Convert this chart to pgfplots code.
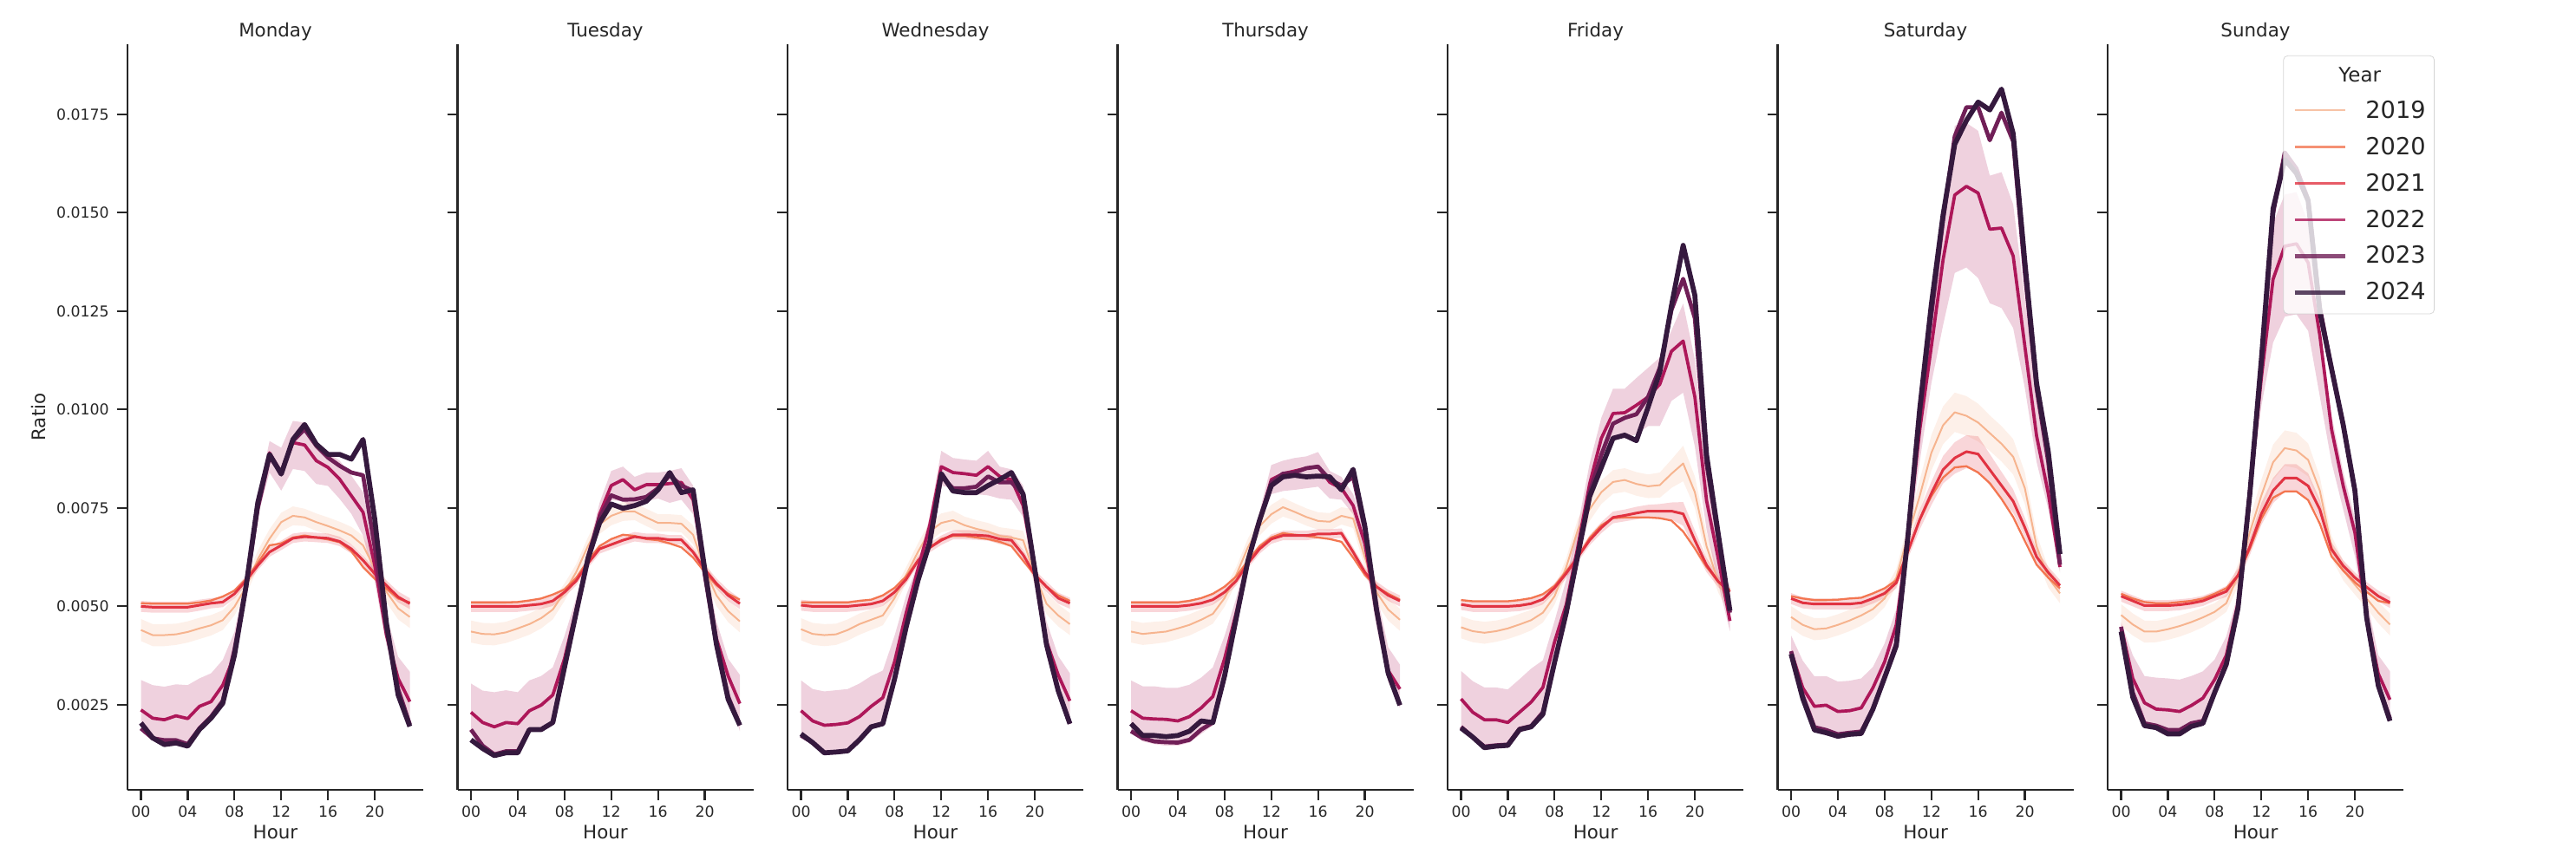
\documentclass[border=0pt]{standalone}
\usepackage{fontspec}
\setmainfont{DejaVu Sans}
\usepackage{pgfplots}
\pgfplotsset{compat=1.18}
\usepackage{pgfplotstable}
\usepgfplotslibrary{fillbetween}

\definecolor{c19}{HTML}{F6B48F}
\definecolor{c20}{HTML}{F37651}
\definecolor{c21}{HTML}{E13342}
\definecolor{c22}{HTML}{AD1759}
\definecolor{c23}{HTML}{701F57}
\definecolor{c24}{HTML}{35193E}
\definecolor{axc}{HTML}{262626}

\pgfplotstableread{
h y19 e19 y20 y21 e21 y22 l22 u22 y23 y24
0 0.00440 0.00028 0.00508 0.00500 0.00014 0.00237 0.00195 0.00313 0.00190 0.00204
1 0.00427 0.00028 0.00507 0.00498 0.00014 0.00216 0.00166 0.00300 0.00165 0.00166
2 0.00427 0.00028 0.00507 0.00498 0.00014 0.00212 0.00150 0.00296 0.00160 0.00149
3 0.00429 0.00027 0.00507 0.00498 0.00014 0.00222 0.00157 0.00302 0.00160 0.00153
4 0.00435 0.00027 0.00507 0.00498 0.00014 0.00215 0.00145 0.00300 0.00150 0.00145
5 0.00444 0.00027 0.00510 0.00503 0.00014 0.00246 0.00183 0.00317 0.00190 0.00187
6 0.00452 0.00026 0.00515 0.00508 0.00013 0.00258 0.00212 0.00330 0.00220 0.00216
7 0.00465 0.00025 0.00525 0.00511 0.00013 0.00300 0.00250 0.00364 0.00260 0.00254
8 0.00499 0.00022 0.00540 0.00532 0.00012 0.00376 0.00360 0.00435 0.00390 0.00376
9 0.00550 0.00020 0.00570 0.00566 0.00012 0.00552 0.00537 0.00579 0.00550 0.00553
10 0.00620 0.00022 0.00610 0.00604 0.00012 0.00755 0.00730 0.00778 0.00750 0.00764
11 0.00672 0.00024 0.00655 0.00638 0.00012 0.00890 0.00840 0.00920 0.00880 0.00886
12 0.00714 0.00024 0.00660 0.00655 0.00012 0.00840 0.00794 0.00903 0.00840 0.00836
13 0.00730 0.00024 0.00675 0.00673 0.00012 0.00916 0.00849 0.00971 0.00920 0.00924
14 0.00726 0.00022 0.00680 0.00677 0.00012 0.00910 0.00844 0.00967 0.00950 0.00962
15 0.00714 0.00022 0.00675 0.00675 0.00012 0.00870 0.00811 0.00916 0.00908 0.00912
16 0.00704 0.00022 0.00670 0.00673 0.00012 0.00853 0.00806 0.00890 0.00878 0.00886
17 0.00693 0.00022 0.00663 0.00665 0.00012 0.00823 0.00773 0.00870 0.00857 0.00886
18 0.00680 0.00022 0.00640 0.00646 0.00012 0.00781 0.00735 0.00832 0.00840 0.00874
19 0.00655 0.00024 0.00600 0.00617 0.00012 0.00739 0.00680 0.00790 0.00833 0.00924
20 0.00596 0.00026 0.00570 0.00583 0.00012 0.00604 0.00562 0.00646 0.00650 0.00722
21 0.00537 0.00027 0.00545 0.00553 0.00013 0.00427 0.00402 0.00478 0.00440 0.00457
22 0.00495 0.00028 0.00520 0.00524 0.00014 0.00317 0.00280 0.00372 0.00290 0.00275
23 0.00473 0.00028 0.00510 0.00507 0.00014 0.00258 0.00195 0.00334 0.00200 0.00195
}\mon

\pgfplotstableread{
h y19 e19 y20 y21 e21 y22 l22 u22 y23 y24
0 0.00436 0.00028 0.00510 0.00500 0.00014 0.00231 0.00183 0.00304 0.00187 0.00161
1 0.00430 0.00028 0.00510 0.00500 0.00014 0.00205 0.00146 0.00286 0.00146 0.00139
2 0.00429 0.00028 0.00510 0.00500 0.00014 0.00194 0.00121 0.00282 0.00124 0.00121
3 0.00434 0.00027 0.00510 0.00500 0.00014 0.00205 0.00132 0.00287 0.00132 0.00128
4 0.00444 0.00027 0.00511 0.00500 0.00014 0.00202 0.00128 0.00282 0.00132 0.00128
5 0.00455 0.00027 0.00515 0.00503 0.00014 0.00235 0.00187 0.00312 0.00187 0.00187
6 0.00470 0.00026 0.00520 0.00506 0.00013 0.00249 0.00194 0.00323 0.00187 0.00187
7 0.00492 0.00025 0.00530 0.00514 0.00013 0.00275 0.00213 0.00345 0.00205 0.00205
8 0.00536 0.00022 0.00543 0.00536 0.00012 0.00367 0.00345 0.00425 0.00345 0.00345
9 0.00587 0.00020 0.00572 0.00565 0.00012 0.00492 0.00477 0.00521 0.00484 0.00484
10 0.00653 0.00022 0.00616 0.00609 0.00012 0.00616 0.00594 0.00638 0.00625 0.00620
11 0.00708 0.00024 0.00653 0.00646 0.00012 0.00734 0.00704 0.00763 0.00725 0.00712
12 0.00730 0.00024 0.00671 0.00657 0.00012 0.00807 0.00770 0.00844 0.00782 0.00760
13 0.00741 0.00024 0.00682 0.00668 0.00012 0.00822 0.00767 0.00855 0.00771 0.00749
14 0.00741 0.00022 0.00679 0.00677 0.00012 0.00796 0.00749 0.00829 0.00772 0.00756
15 0.00726 0.00022 0.00671 0.00673 0.00012 0.00809 0.00767 0.00840 0.00778 0.00767
16 0.00712 0.00022 0.00668 0.00673 0.00012 0.00809 0.00774 0.00840 0.00800 0.00796
17 0.00712 0.00022 0.00660 0.00669 0.00012 0.00812 0.00763 0.00844 0.00833 0.00840
18 0.00710 0.00022 0.00650 0.00669 0.00012 0.00815 0.00771 0.00851 0.00807 0.00789
19 0.00682 0.00024 0.00624 0.00638 0.00012 0.00771 0.00734 0.00807 0.00793 0.00796
20 0.00594 0.00026 0.00587 0.00594 0.00012 0.00594 0.00558 0.00624 0.00580 0.00594
21 0.00528 0.00027 0.00554 0.00558 0.00013 0.00418 0.00374 0.00462 0.00403 0.00403
22 0.00488 0.00028 0.00532 0.00528 0.00014 0.00323 0.00279 0.00367 0.00271 0.00264
23 0.00462 0.00028 0.00517 0.00507 0.00014 0.00253 0.00183 0.00326 0.00198 0.00198
}\tue

\pgfplotstableread{
h y19 e19 y20 y21 e21 y22 l22 u22 y23 y24
0 0.00442 0.00028 0.00510 0.00503 0.00014 0.00235 0.00172 0.00312 0.00172 0.00176
1 0.00430 0.00028 0.00510 0.00500 0.00014 0.00209 0.00154 0.00290 0.00154 0.00154
2 0.00427 0.00028 0.00510 0.00500 0.00014 0.00198 0.00128 0.00284 0.00128 0.00128
3 0.00429 0.00027 0.00510 0.00500 0.00014 0.00200 0.00130 0.00287 0.00130 0.00130
4 0.00440 0.00027 0.00510 0.00500 0.00014 0.00204 0.00133 0.00290 0.00133 0.00133
5 0.00455 0.00027 0.00514 0.00503 0.00014 0.00220 0.00157 0.00304 0.00161 0.00161
6 0.00466 0.00026 0.00517 0.00506 0.00013 0.00246 0.00191 0.00323 0.00194 0.00194
7 0.00477 0.00025 0.00528 0.00514 0.00013 0.00268 0.00205 0.00337 0.00202 0.00202
8 0.00521 0.00022 0.00547 0.00536 0.00012 0.00359 0.00315 0.00425 0.00315 0.00315
9 0.00580 0.00020 0.00576 0.00569 0.00012 0.00484 0.00462 0.00528 0.00448 0.00448
10 0.00638 0.00022 0.00616 0.00616 0.00012 0.00594 0.00572 0.00609 0.00565 0.00565
11 0.00690 0.00024 0.00649 0.00649 0.00012 0.00704 0.00668 0.00727 0.00665 0.00660
12 0.00712 0.00024 0.00671 0.00668 0.00012 0.00855 0.00807 0.00895 0.00830 0.00837
13 0.00719 0.00024 0.00679 0.00682 0.00012 0.00840 0.00800 0.00877 0.00800 0.00793
14 0.00706 0.00022 0.00679 0.00682 0.00012 0.00837 0.00796 0.00873 0.00800 0.00789
15 0.00697 0.00022 0.00675 0.00681 0.00012 0.00833 0.00785 0.00870 0.00804 0.00789
16 0.00690 0.00022 0.00671 0.00679 0.00012 0.00855 0.00782 0.00895 0.00830 0.00807
17 0.00679 0.00022 0.00664 0.00671 0.00012 0.00830 0.00774 0.00855 0.00815 0.00822
18 0.00675 0.00022 0.00653 0.00668 0.00012 0.00822 0.00771 0.00848 0.00815 0.00840
19 0.00668 0.00024 0.00616 0.00631 0.00012 0.00756 0.00727 0.00807 0.00785 0.00785
20 0.00580 0.00026 0.00580 0.00580 0.00012 0.00594 0.00550 0.00624 0.00594 0.00594
21 0.00507 0.00027 0.00550 0.00550 0.00013 0.00411 0.00374 0.00462 0.00403 0.00403
22 0.00477 0.00028 0.00528 0.00521 0.00014 0.00326 0.00279 0.00374 0.00286 0.00286
23 0.00455 0.00028 0.00514 0.00508 0.00014 0.00260 0.00198 0.00330 0.00202 0.00202
}\wed

\pgfplotstableread{
h y19 e19 y20 y21 e21 y22 l22 u22 y23 y24
0 0.00436 0.00028 0.00510 0.00500 0.00014 0.00235 0.00180 0.00312 0.00183 0.00202
1 0.00430 0.00028 0.00510 0.00500 0.00014 0.00216 0.00157 0.00297 0.00165 0.00172
2 0.00433 0.00028 0.00510 0.00500 0.00014 0.00214 0.00150 0.00297 0.00157 0.00172
3 0.00436 0.00027 0.00510 0.00500 0.00014 0.00213 0.00146 0.00293 0.00155 0.00169
4 0.00444 0.00027 0.00510 0.00500 0.00014 0.00209 0.00146 0.00293 0.00154 0.00172
5 0.00453 0.00027 0.00514 0.00503 0.00014 0.00220 0.00154 0.00301 0.00161 0.00183
6 0.00466 0.00026 0.00521 0.00508 0.00013 0.00242 0.00176 0.00319 0.00187 0.00209
7 0.00481 0.00025 0.00532 0.00517 0.00013 0.00271 0.00198 0.00345 0.00205 0.00205
8 0.00521 0.00022 0.00550 0.00536 0.00012 0.00367 0.00315 0.00425 0.00323 0.00323
9 0.00580 0.00020 0.00576 0.00565 0.00012 0.00484 0.00462 0.00521 0.00470 0.00470
10 0.00650 0.00022 0.00616 0.00609 0.00012 0.00616 0.00594 0.00638 0.00616 0.00616
11 0.00704 0.00024 0.00653 0.00646 0.00012 0.00719 0.00704 0.00741 0.00719 0.00719
12 0.00734 0.00024 0.00675 0.00671 0.00012 0.00822 0.00785 0.00859 0.00815 0.00807
13 0.00752 0.00024 0.00686 0.00680 0.00012 0.00837 0.00793 0.00870 0.00837 0.00829
14 0.00740 0.00022 0.00682 0.00680 0.00012 0.00844 0.00796 0.00877 0.00840 0.00833
15 0.00727 0.00022 0.00679 0.00680 0.00012 0.00851 0.00800 0.00881 0.00851 0.00829
16 0.00717 0.00022 0.00675 0.00684 0.00012 0.00855 0.00804 0.00892 0.00855 0.00831
17 0.00715 0.00022 0.00671 0.00684 0.00012 0.00815 0.00774 0.00844 0.00822 0.00829
18 0.00730 0.00022 0.00664 0.00686 0.00012 0.00800 0.00771 0.00829 0.00807 0.00796
19 0.00723 0.00024 0.00624 0.00638 0.00012 0.00756 0.00734 0.00785 0.00829 0.00848
20 0.00624 0.00026 0.00580 0.00587 0.00012 0.00660 0.00624 0.00697 0.00697 0.00704
21 0.00536 0.00027 0.00550 0.00550 0.00013 0.00484 0.00447 0.00536 0.00492 0.00492
22 0.00492 0.00028 0.00532 0.00528 0.00014 0.00337 0.00308 0.00396 0.00330 0.00330
23 0.00466 0.00028 0.00517 0.00514 0.00014 0.00290 0.00242 0.00352 0.00249 0.00249
}\thu

\pgfplotstableread{
h y19 e19 y20 y21 e21 y22 l22 u22 y23 y24
0 0.00447 0.00028 0.00516 0.00505 0.00014 0.00265 0.00194 0.00336 0.00194 0.00191
1 0.00437 0.00028 0.00513 0.00500 0.00014 0.00231 0.00168 0.00310 0.00168 0.00168
2 0.00433 0.00028 0.00513 0.00500 0.00014 0.00212 0.00147 0.00294 0.00144 0.00141
3 0.00437 0.00027 0.00513 0.00500 0.00014 0.00212 0.00147 0.00294 0.00147 0.00145
4 0.00444 0.00027 0.00513 0.00500 0.00014 0.00205 0.00141 0.00289 0.00149 0.00147
5 0.00454 0.00027 0.00516 0.00502 0.00014 0.00231 0.00178 0.00315 0.00189 0.00187
6 0.00465 0.00026 0.00521 0.00507 0.00013 0.00257 0.00194 0.00342 0.00196 0.00194
7 0.00484 0.00025 0.00531 0.00518 0.00013 0.00294 0.00231 0.00363 0.00231 0.00226
8 0.00526 0.00022 0.00552 0.00547 0.00012 0.00410 0.00368 0.00463 0.00358 0.00358
9 0.00600 0.00022 0.00589 0.00584 0.00012 0.00505 0.00484 0.00568 0.00484 0.00484
10 0.00695 0.00028 0.00626 0.00626 0.00012 0.00653 0.00621 0.00705 0.00632 0.00632
11 0.00747 0.00030 0.00674 0.00668 0.00013 0.00811 0.00779 0.00863 0.00790 0.00779
12 0.00790 0.00030 0.00706 0.00700 0.00014 0.00927 0.00874 0.00979 0.00885 0.00853
13 0.00816 0.00030 0.00724 0.00726 0.00015 0.00990 0.00927 0.01053 0.00964 0.00927
14 0.00821 0.00030 0.00726 0.00731 0.00015 0.00992 0.00927 0.01053 0.00979 0.00935
15 0.00811 0.00030 0.00726 0.00737 0.00016 0.01011 0.00937 0.01080 0.00988 0.00921
16 0.00805 0.00030 0.00726 0.00742 0.00016 0.01032 0.00958 0.01106 0.01032 0.01006
17 0.00808 0.00032 0.00724 0.00742 0.00018 0.01064 0.00958 0.01132 0.01106 0.01095
18 0.00837 0.00036 0.00718 0.00742 0.00022 0.01148 0.01022 0.01201 0.01253 0.01264
19 0.00863 0.00045 0.00690 0.00735 0.00030 0.01174 0.01043 0.01269 0.01332 0.01417
20 0.00790 0.00040 0.00647 0.00668 0.00025 0.01032 0.00906 0.01127 0.01232 0.01290
21 0.00653 0.00035 0.00600 0.00605 0.00018 0.00769 0.00695 0.00842 0.00863 0.00885
22 0.00563 0.00028 0.00563 0.00563 0.00014 0.00621 0.00558 0.00674 0.00674 0.00684
23 0.00505 0.00025 0.00542 0.00537 0.00014 0.00463 0.00437 0.00526 0.00484 0.00489
}\fri

\pgfplotstableread{
h y19 e19 y20 y21 e21 y22 l22 u22 y23 y24
0 0.00473 0.00028 0.00526 0.00520 0.00014 0.00386 0.00353 0.00426 0.00386 0.00379
1 0.00453 0.00028 0.00520 0.00509 0.00014 0.00293 0.00266 0.00362 0.00273 0.00266
2 0.00442 0.00028 0.00516 0.00506 0.00014 0.00246 0.00186 0.00322 0.00193 0.00186
3 0.00444 0.00027 0.00516 0.00506 0.00014 0.00249 0.00179 0.00323 0.00186 0.00179
4 0.00453 0.00027 0.00517 0.00506 0.00014 0.00233 0.00170 0.00309 0.00175 0.00170
5 0.00464 0.00027 0.00520 0.00506 0.00014 0.00235 0.00175 0.00311 0.00179 0.00175
6 0.00477 0.00026 0.00522 0.00509 0.00013 0.00242 0.00177 0.00317 0.00182 0.00177
7 0.00493 0.00025 0.00533 0.00520 0.00013 0.00293 0.00239 0.00346 0.00239 0.00239
8 0.00520 0.00022 0.00546 0.00533 0.00012 0.00359 0.00319 0.00406 0.00319 0.00319
9 0.00573 0.00022 0.00566 0.00560 0.00014 0.00453 0.00400 0.00493 0.00406 0.00400
10 0.00680 0.00030 0.00640 0.00640 0.00018 0.00680 0.00653 0.00720 0.00680 0.00680
11 0.00780 0.00040 0.00720 0.00720 0.00025 0.00947 0.00867 0.00973 0.00987 0.01000
12 0.00890 0.00045 0.00780 0.00787 0.00030 0.01160 0.01067 0.01214 0.01240 0.01267
13 0.00960 0.00048 0.00827 0.00847 0.00035 0.01380 0.01214 0.01454 0.01481 0.01494
14 0.00993 0.00050 0.00853 0.00877 0.00040 0.01545 0.01347 0.01721 0.01694 0.01674
15 0.00984 0.00050 0.00856 0.00893 0.00042 0.01567 0.01361 0.01728 0.01768 0.01734
16 0.00967 0.00048 0.00840 0.00887 0.00045 0.01550 0.01334 0.01708 0.01768 0.01781
17 0.00940 0.00045 0.00813 0.00847 0.00040 0.01458 0.01270 0.01594 0.01684 0.01761
18 0.00913 0.00045 0.00773 0.00807 0.00035 0.01461 0.01258 0.01603 0.01754 0.01814
19 0.00880 0.00045 0.00727 0.00767 0.00030 0.01390 0.01207 0.01521 0.01681 0.01701
20 0.00800 0.00040 0.00666 0.00700 0.00025 0.01160 0.01054 0.01280 0.01347 0.01374
21 0.00653 0.00030 0.00606 0.00626 0.00018 0.00933 0.00867 0.01040 0.01054 0.01067
22 0.00573 0.00025 0.00573 0.00586 0.00015 0.00787 0.00747 0.00867 0.00867 0.00893
23 0.00533 0.00025 0.00546 0.00553 0.00014 0.00600 0.00586 0.00626 0.00606 0.00633
}\sat

\pgfplotstableread{
h y19 e19 y20 y21 e21 y22 l22 u22 y23 y24
0 0.00478 0.00028 0.00532 0.00526 0.00014 0.00448 0.00436 0.00460 0.00448 0.00436
1 0.00454 0.00028 0.00520 0.00514 0.00014 0.00317 0.00269 0.00376 0.00281 0.00269
2 0.00436 0.00028 0.00511 0.00502 0.00014 0.00255 0.00192 0.00323 0.00203 0.00197
3 0.00436 0.00027 0.00508 0.00502 0.00014 0.00239 0.00186 0.00319 0.00197 0.00192
4 0.00442 0.00027 0.00508 0.00502 0.00014 0.00237 0.00174 0.00317 0.00186 0.00176
5 0.00450 0.00027 0.00511 0.00504 0.00014 0.00233 0.00174 0.00314 0.00186 0.00176
6 0.00460 0.00026 0.00514 0.00508 0.00013 0.00248 0.00192 0.00323 0.00203 0.00195
7 0.00472 0.00025 0.00520 0.00514 0.00013 0.00267 0.00203 0.00335 0.00209 0.00203
8 0.00486 0.00022 0.00532 0.00526 0.00012 0.00314 0.00281 0.00365 0.00281 0.00281
9 0.00508 0.00022 0.00546 0.00538 0.00014 0.00376 0.00353 0.00424 0.00353 0.00353
10 0.00579 0.00028 0.00579 0.00579 0.00018 0.00508 0.00496 0.00532 0.00496 0.00496
11 0.00687 0.00035 0.00645 0.00651 0.00022 0.00794 0.00770 0.00842 0.00782 0.00782
12 0.00782 0.00040 0.00723 0.00735 0.00028 0.01081 0.01009 0.01104 0.01110 0.01128
13 0.00866 0.00045 0.00776 0.00794 0.00032 0.01331 0.01170 0.01474 0.01498 0.01510
14 0.00902 0.00045 0.00792 0.00826 0.00035 0.01415 0.01236 0.01546 0.01653 0.01635
15 0.00896 0.00045 0.00792 0.00826 0.00035 0.01421 0.01242 0.01552 0.01612 0.01600
16 0.00872 0.00042 0.00770 0.00806 0.00032 0.01373 0.01200 0.01474 0.01534 0.01530
17 0.00794 0.00035 0.00710 0.00746 0.00025 0.01188 0.01033 0.01200 0.01260 0.01248
18 0.00651 0.00028 0.00627 0.00645 0.00018 0.00950 0.00866 0.00985 0.01104 0.01104
19 0.00591 0.00025 0.00591 0.00603 0.00014 0.00806 0.00746 0.00842 0.00961 0.00961
20 0.00555 0.00025 0.00561 0.00573 0.00013 0.00687 0.00627 0.00723 0.00794 0.00794
21 0.00520 0.00025 0.00537 0.00549 0.00013 0.00472 0.00448 0.00520 0.00472 0.00472
22 0.00484 0.00027 0.00514 0.00526 0.00014 0.00329 0.00281 0.00376 0.00299 0.00299
23 0.00454 0.00028 0.00508 0.00510 0.00014 0.00263 0.00215 0.00335 0.00215 0.00209
}\sun

\pgfplotsset{
  dayax/.style={
    scale only axis, width=170.5pt, height=430pt, anchor=south west,
    xmin=-1.15, xmax=24.15, ymin=0.00034, ymax=0.01928,
    scaled y ticks=false, scaled x ticks=false,
    axis x line*=bottom, axis y line*=left,
    axis line style={axc, line width=1.1pt},
    every tick/.style={axc, line width=1.1pt},
    major tick length=5.8pt, tick align=outside,
    xtick={0,4,8,12,16,20}, xticklabels={00,04,08,12,16,20},
    ytick={0.0025,0.005,0.0075,0.01,0.0125,0.015,0.0175},
    yticklabels={},
    /pgf/number format/assume math mode=true,
    tick label style={font=\fontsize{8.65}{10}\selectfont, text=axc},
    xlabel={Hour},
    label style={font=\fontsize{10.7}{12}\selectfont, text=axc},
    xlabel style={at={(axis description cs:0.5,0)}, anchor=base, yshift=-28.4pt},
    every axis title shift=0pt,
    title style={font=\fontsize{10.7}{12}\selectfont, text=axc, at={(axis description cs:0.5,1)}, anchor=base, yshift=4.1pt},
    line join=round,
  }
}

\newcommand{\dayplots}[1]{%
  \addplot[name path=la, draw=none, forget plot] table[x=h, y expr=\thisrow{y19}-\thisrow{e19}]{#1};
  \addplot[name path=ua, draw=none, forget plot] table[x=h, y expr=\thisrow{y19}+\thisrow{e19}]{#1};
  \addplot[fill=c19, fill opacity=0.2, draw=none, forget plot] fill between[of=la and ua];
  \addplot[c19, line width=1.0pt] table[x=h, y=y19]{#1};
  \addplot[c20, line width=1.15pt] table[x=h, y=y20]{#1};
  \addplot[name path=lb, draw=none, forget plot] table[x=h, y expr=\thisrow{y21}-\thisrow{e21}]{#1};
  \addplot[name path=ub, draw=none, forget plot] table[x=h, y expr=\thisrow{y21}+\thisrow{e21}]{#1};
  \addplot[fill=c21, fill opacity=0.2, draw=none, forget plot] fill between[of=lb and ub];
  \addplot[c21, line width=1.5pt] table[x=h, y=y21]{#1};
  \addplot[name path=lc, draw=none, forget plot] table[x=h, y=l22]{#1};
  \addplot[name path=uc, draw=none, forget plot] table[x=h, y=u22]{#1};
  \addplot[fill=c22, fill opacity=0.2, draw=none, forget plot] fill between[of=lc and uc];
  \addplot[c22, line width=1.85pt] table[x=h, y=y22]{#1};
  \addplot[c23, line width=2.35pt] table[x=h, y=y23]{#1};
  \addplot[c24, line width=2.85pt] table[x=h, y=y24]{#1};
}

\begin{document}
\begin{tikzpicture}

\begin{axis}[dayax, at={(73.5pt,44.5pt)}, title={Monday},
  yticklabels={0.0025,0.0050,0.0075,0.0100,0.0125,0.0150,0.0175},
  yticklabel style={xshift=-1.3pt},
  ylabel={Ratio},
  ylabel style={at={(axis description cs:-0.2757,0.5)}, anchor=base}]
\dayplots{\mon}
\end{axis}

\begin{axis}[dayax, at={(263.75pt,44.5pt)}, title={Tuesday}]
\dayplots{\tue}
\end{axis}

\begin{axis}[dayax, at={(454pt,44.5pt)}, title={Wednesday}]
\dayplots{\wed}
\end{axis}

\begin{axis}[dayax, at={(644.25pt,44.5pt)}, title={Thursday}]
\dayplots{\thu}
\end{axis}

\begin{axis}[dayax, at={(834.5pt,44.5pt)}, title={Friday}]
\dayplots{\fri}
\end{axis}

\begin{axis}[dayax, at={(1024.75pt,44.5pt)}, title={Saturday}]
\dayplots{\sat}
\end{axis}

\begin{axis}[dayax, at={(1215pt,44.5pt)}, title={Sunday},
  legend cell align=left,
  legend image code/.code={\draw[#1] (0pt,0pt) -- (29pt,0pt);},
  legend style={at={(axis description cs:1.1056,0.985)}, anchor=north east,
    draw=black!20, fill=white, fill opacity=0.8, draw opacity=0.8, text opacity=1,
    rounded corners=2.5pt, inner xsep=5pt, inner ysep=6.5pt,
    font=\fontsize{13.6}{16}\selectfont, text=axc,
    nodes={inner sep=0pt},
    row sep=9.4pt,
    /tikz/every odd column/.append style={column sep=10.5pt}}]
\addlegendimage{empty legend}
\dayplots{\sun}
\legend{{\hspace*{-15.5pt}\fontsize{11.5}{13}\selectfont Year},2019,2020,2021,2022,2023,2024}
\end{axis}

\pgfresetboundingbox
\useasboundingbox (0,0) rectangle (1485pt,500pt);
\end{tikzpicture}
\end{document}
